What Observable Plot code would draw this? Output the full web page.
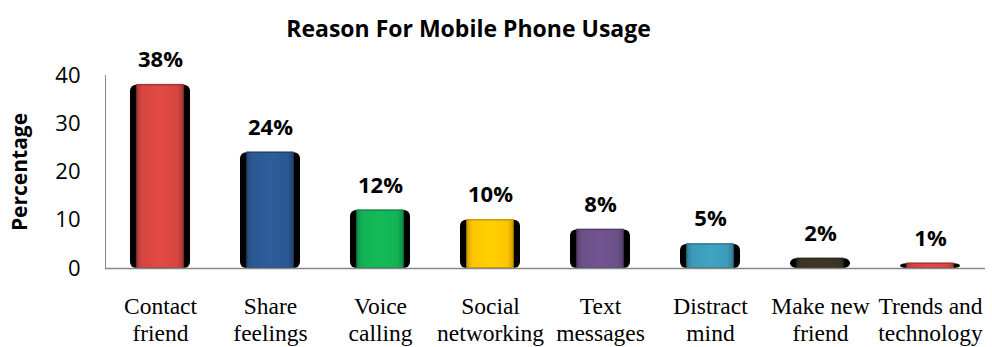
<!DOCTYPE html>
<html>
<head>
<meta charset="utf-8">
<script src="https://cdn.jsdelivr.net/npm/d3@7"></script>
<script src="https://cdn.jsdelivr.net/npm/@observablehq/plot@0.6"></script>
<style>
  html, body { margin: 0; padding: 0; background: #fff; }
  #chart svg { display: block; }
</style>
</head>
<body>
<div id="chart"></div>
<script>
const categories = ["Contact\nfriend", "Share\nfeelings", "Voice\ncalling", "Social\nnetworking", "Text\nmessages", "Distract\nmind", "Make new\nfriend", "Trends and\ntechnology"];
const values = [38, 24, 12, 10, 8, 5, 2, 1];
const colors = ["#d64541", "#2b5893", "#13b155", "#fec600", "#6b5089", "#3b9bb8", "#3b3426", "#d64541"];
const yTicks = [0, 10, 20, 30, 40];
const title = "Reason For Mobile Phone Usage";
const yLabel = "Percentage";

const data = categories.map((c, i) => ({cat: c, value: values[i], grad: `url(#bevel${i})`, edge: d3.color(colors[i]).darker(0.7).formatHex()}));

const plot = Plot.plot({
  width: 992,
  height: 347,
  marginLeft: 105,
  marginRight: 7,
  marginTop: 75,
  marginBottom: 79,
  style: {background: "#fff", overflow: "visible"},
  x: {domain: categories, padding: 0},
  y: {domain: [0, 40]},
  color: {type: "identity"},
  marks: [
    Plot.barY(data, {x: "cat", y: "value", fill: "#000", insetLeft: 25, insetRight: 25, rx: 6}),
    Plot.barY(data, {x: "cat", y: "value", fill: "grad", stroke: "edge", strokeWidth: 1.5, insetLeft: 32, insetRight: 32}),
    Plot.text(data, {x: "cat", y: "value", text: d => d.value + "%", dy: -25, fontSize: 22, fontWeight: "bold", fontFamily: "'Open Sans', sans-serif", fill: "#000"}),
    Plot.axisY({ticks: yTicks, tickSize: 0, tickPadding: 25, fontSize: 22, fontFamily: "'Open Sans', sans-serif", label: null, color: "#000"}),
    Plot.axisX({tickSize: 0, tickPadding: 27, fontSize: 23.5, fontFamily: "'Liberation Serif', serif", lineHeight: 1.13, label: null, color: "#000"}),
    Plot.frame({anchor: "left", stroke: "#888"}),
    Plot.ruleY([0], {stroke: "#888", strokeWidth: 1.5}),
    Plot.text([title], {frameAnchor: "top", lineAnchor: "middle", dx: -77, dy: -46, fontSize: 23, fontWeight: "bold", fontFamily: "'Open Sans', sans-serif", fill: "#000"}),
    Plot.text([yLabel], {frameAnchor: "left", textAnchor: "middle", lineAnchor: "middle", dx: -85, rotate: -90, fontSize: 21, fontWeight: "bold", fontFamily: "'Open Sans', sans-serif", fill: "#000"})
  ]
});

// bevel-like gradients for the bars
const defs = d3.select(plot).insert("defs", ":first-child");
colors.forEach((c, i) => {
  const base = d3.color(c);
  const g = defs.append("linearGradient").attr("id", `bevel${i}`).attr("x1", "0").attr("x2", "1").attr("y1", "0").attr("y2", "0");
  [[0, base.darker(0.5)], [0.12, base], [0.5, base.brighter(0.15)], [0.88, base], [1, base.darker(0.6)]].forEach(([o, col]) => {
    g.append("stop").attr("offset", o).attr("stop-color", col.formatHex());
  });
});
document.getElementById("chart").appendChild(plot);
</script>
</body>
</html>
